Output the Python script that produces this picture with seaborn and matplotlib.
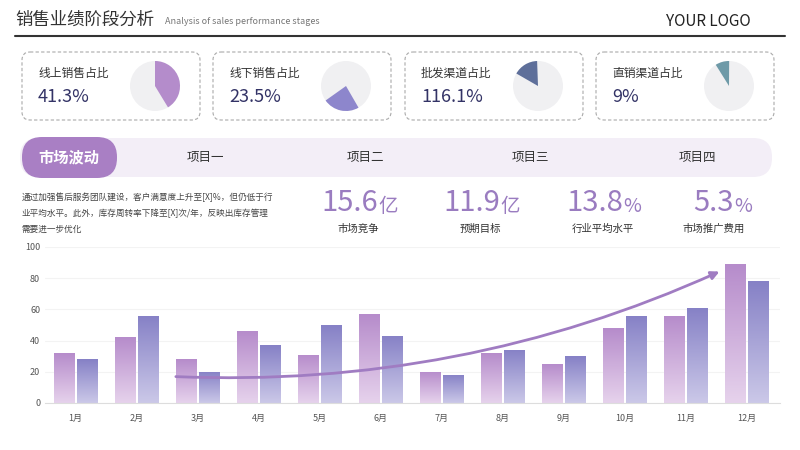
import numpy as np
import pandas as pd
import matplotlib.pyplot as plt
import matplotlib.font_manager as fm
import seaborn as sns
from matplotlib.patches import FancyBboxPatch, Wedge, Circle
from matplotlib.colors import LinearSegmentedColormap

sns.set_style("white")

# find a sans CJK font file and register it
cjk_name = 'Noto Sans CJK SC'
cands = sorted(f for f in fm.findSystemFonts()
               if ('CJK' in f or 'cjk' in f.lower()) and 'Sans' in f and 'Serif' not in f)
cands.sort(key=lambda f: ('Regular' not in f, 'SC' not in f))
if cands:
    fm.fontManager.addfont(cands[0])
    cjk_name = fm.FontProperties(fname=cands[0]).get_name()
plt.rcParams['font.family'] = 'sans-serif'
plt.rcParams['font.sans-serif'] = [cjk_name, 'Noto Sans CJK SC', 'Noto Sans CJK JP', 'DejaVu Sans']

# data
months = ['1月', '2月', '3月', '4月', '5月', '6月', '7月', '8月', '9月', '10月', '11月', '12月']
series_a = [32, 42, 28, 46, 31, 57, 20, 32, 25, 48, 56, 89]
series_b = [28, 56, 20, 37, 50, 43, 18, 34, 30, 56, 61, 78]
card_labels = ['线上销售占比', '线下销售占比', '批发渠道占比', '直销渠道占比']
card_values = [41.3, 23.5, 116.1, 9]
card_texts = ['41.3%', '23.5%', '116.1%', '9%']
item_labels = ['项目一', '项目二', '项目三', '项目四']
kpi_values = ['15.6', '11.9', '13.8', '5.3']
kpi_units = ['亿', '亿', '%', '%']
kpi_labels = ['市场竞争', '预期目标', '行业平均水平', '市场推广费用']
y_ticks = [0, 20, 40, 60, 80, 100]

W, H = 800, 450
fig = plt.figure(figsize=(8, 4.5), dpi=100)
fig.patch.set_facecolor('white')
bg = fig.add_axes([0, 0, 1, 1])
bg.set_xlim(0, W)
bg.set_ylim(H, 0)
bg.axis('off')

# header
bg.text(15, 20, '销售业绩阶段分析', fontsize=12.5, color='#333333', va='center')
bg.text(165, 21, 'Analysis of sales performance stages', fontsize=6.5, color='#777777', va='center')
bg.text(708, 22, 'YOUR LOGO', fontsize=11, color='#222222', va='center', ha='center')
bg.plot([15, 785], [36, 36], color='#333333', lw=1.5)

# cards
card_x = [22, 213, 405, 596]
pie_colors = ['#b48ccb', '#8d86cc', '#5e6f9a', '#6e9aa8']
pie_start = [90, -60, 150, 122]
for i in range(4):
    x0 = card_x[i]
    bg.add_patch(FancyBboxPatch((x0, 52), 178, 68, boxstyle='round,pad=0,rounding_size=8',
                                fc='white', ec='#aaaaaa', lw=0.8, ls=(0, (3, 2))))
    bg.text(x0 + 16, 73, card_labels[i], fontsize=8.5, color='#333333', va='center')
    bg.text(x0 + 16, 97, card_texts[i], fontsize=13, color='#333366', va='center')
    cx, cy, r = x0 + 133, 86, 25
    bg.add_patch(Circle((cx, cy), r, fc='#f0f0f2', ec='none'))
    frac = card_values[i] / 100 if card_values[i] <= 100 else (card_values[i] - 100) / 100
    start = pie_start[i]
    # y axis is inverted in bg, angles mirrored
    bg.add_patch(Wedge((cx, cy), r, -start, -start + frac * 360, fc=pie_colors[i], ec='none'))

# banner
bg.add_patch(FancyBboxPatch((20, 138), 752, 39, boxstyle='round,pad=0,rounding_size=19',
                            fc='#f3eef7', ec='none'))
bg.add_patch(FancyBboxPatch((22, 137), 95, 41, boxstyle='round,pad=0,rounding_size=20',
                            fc='#a97fc4', ec='none'))
bg.text(69, 157, '市场波动', fontsize=11, color='white', weight='bold', ha='center', va='center')
for lab, x in zip(item_labels, [205, 365, 530, 697]):
    bg.text(x, 158, lab, fontsize=9, color='#333333', ha='center', va='center')

para = ['通过加强售后服务团队建设，客户满意度上升至[X]%，但仍低于行',
        '业平均水平。此外，库存周转率下降至[X]次/年，反映出库存管理',
        '需要进一步优化']
for j, line in enumerate(para):
    bg.text(22, 197 + j * 16, line, fontsize=6.2, color='#444444', va='center')

for v, u, lab, x in zip(kpi_values, kpi_units, kpi_labels, [358, 480, 603, 714]):
    bg.text(x + 20, 203, v, fontsize=21, color='#9a7cc0', ha='right', va='center')
    bg.text(x + 20, 206, u, fontsize=14, color='#9a7cc0', ha='left', va='center')
    bg.text(x, 229, lab, fontsize=7.5, color='#333333', ha='center', va='center')

# bar chart
ax = fig.add_axes([45 / W, (H - 403) / H, 735 / W, 156 / H])
df = pd.DataFrame({'month': months * 2,
                   'value': series_a + series_b,
                   'series': ['A'] * 12 + ['B'] * 12})
sns.barplot(data=df, x='month', y='value', hue='series', ax=ax, legend=False,
            palette=['#c7a3d6', '#a29cd6'], width=0.75, gap=0.12, saturation=1)
ax.set_yticks(y_ticks)
ax.set_xlabel('')
ax.set_ylabel('')
ax.tick_params(axis='both', length=0, labelsize=6.5, colors='#555555')
ax.tick_params(axis='x', pad=8)
for s in ['top', 'right', 'left']:
    ax.spines[s].set_visible(False)
ax.spines['bottom'].set_color('#dddddd')
ax.grid(axis='y', color='#f3f3f3', lw=0.8)
ax.set_axisbelow(True)
ax.patch.set_alpha(0)

cmaps = [LinearSegmentedColormap.from_list('a', ['#e6d2ec', '#b68ccb']),
         LinearSegmentedColormap.from_list('b', ['#cbc8e8', '#8681c6'])]
grad = np.linspace(0, 1, 100).reshape(-1, 1)
for k, p in enumerate(ax.patches):
    if p.get_height() <= 0:
        continue
    x0, w, h = p.get_x(), p.get_width(), p.get_height()
    cm = cmaps[0] if k < 12 else cmaps[1]
    im = ax.imshow(grad, extent=[x0, x0 + w, 0, h], origin='lower', cmap=cm,
                   aspect='auto', zorder=p.get_zorder())
    im.set_clip_path(p)
    p.set_edgecolor('white')
    p.set_linewidth(0.6)
ax.set_xlim(-0.5, 11.55)
ax.set_ylim(0, 100)

ax.annotate('', xy=(10.6, 85), xytext=(1.6, 17),
            arrowprops=dict(arrowstyle='-|>', color='#a07cc2', lw=2, mutation_scale=12,
                            connectionstyle='arc3,rad=0.12'))

fig.savefig('out.png', dpi=100)
